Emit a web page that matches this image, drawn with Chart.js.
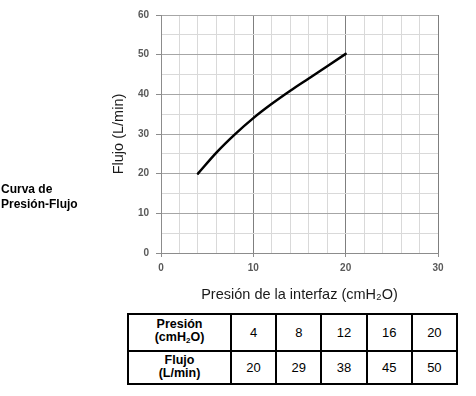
<!DOCTYPE html>
<html><head><meta charset="utf-8">
<script src="https://cdn.jsdelivr.net/npm/chart.js@4/dist/chart.umd.min.js"></script>
<style>
html,body{margin:0;padding:0;background:#fff;width:476px;height:396px;overflow:hidden;position:relative;font-family:"Liberation Sans",Arial,sans-serif;}
#c{position:absolute;left:0;top:0;}
#lbl{position:absolute;left:1px;top:182px;font-weight:bold;font-size:12px;line-height:14.5px;color:#000;}
table{position:absolute;left:127px;top:313px;border-collapse:collapse;width:331px;height:72px;}
td{border:2px solid #000;text-align:center;font-size:13px;padding:0;color:#000;}
td.h{font-weight:bold;font-size:12.5px;line-height:13px;width:101px;}
sub{font-size:8px;vertical-align:-2px;}
</style></head>
<body>
<canvas id="c" width="476" height="305"></canvas>
<div id="lbl">Curva de<br>Presión-Flujo</div>
<table id="t"></table>
<script>
// Table values
const presion = [4, 8, 12, 16, 20];
const flujo = [20, 29, 38, 45, 50];
// Curve
const curvaX = [4, 6, 8, 10, 12, 14, 16, 18, 20];
const curvaY = [20, 25.3, 29.9, 34.0, 37.6, 40.9, 44.0, 47.1, 50.2];
const xTicks = [0, 10, 20, 30];
const yTicks = [0, 10, 20, 30, 40, 50, 60];

// table
const t = document.getElementById('t');
let r1 = '<tr><td class="h">Presión<br>(cmH<sub>2</sub>O)</td>' + presion.map(v => '<td>' + v + '</td>').join('') + '</tr>';
let r2 = '<tr><td class="h">Flujo<br>(L/min)</td>' + flujo.map(v => '<td>' + v + '</td>').join('') + '</tr>';
t.innerHTML = r1 + r2;

const tickFont = {family: '"Liberation Sans", Arial, sans-serif', size: 10, weight: 'bold'};
const titleFont = {family: '"Liberation Sans", Arial, sans-serif', size: 14.5, lineHeight: 1.2};
new Chart(document.getElementById('c'), {
  type: 'scatter',
  data: {datasets: [{
    data: curvaX.map((x, i) => ({x: x, y: curvaY[i]})),
    showLine: true, borderColor: '#000', borderWidth: 2.5, pointRadius: 0,
    cubicInterpolationMode: 'monotone', fill: false, borderCapStyle: 'round'
  }]},
  options: {
    responsive: false, devicePixelRatio: 1, animation: false,
    layout: {padding: {left: 104, top: 15, right: 38, bottom: 1}},
    plugins: {legend: {display: false}, tooltip: {enabled: false}},
    scales: {
      x: {
        type: 'linear', min: 0, max: 30,
        ticks: {stepSize: 2, autoSkip: false, maxRotation: 0, padding: 5, color: '#595959', font: tickFont,
          callback: v => xTicks.includes(v) ? String(v) : ''},
        grid: {
          color: c => (c.tick && c.tick.value % 10 === 0 && c.tick.value !== 0) ? '#7f7f7f' : '#d9d9d9',
          tickColor: c => (c.tick && c.tick.value % 10 === 0) ? '#8c8c8c' : 'rgba(0,0,0,0)',
          tickLength: 4, lineWidth: 1
        },
        border: {color: '#8c8c8c', width: 1},
        title: {display: true, text: 'Presión de la interfaz (cmH₂O)', color: '#1a1a1a',
          font: titleFont, padding: {top: 0, bottom: 0}},
        afterFit: s => { s.height = 51; }
      },
      y: {
        type: 'linear', min: 0, max: 60,
        ticks: {stepSize: 5, autoSkip: false, padding: 7, color: '#595959', font: tickFont,
          callback: v => yTicks.includes(v) ? String(v) : ''},
        grid: {
          color: c => (c.tick && c.tick.value % 10 === 0 && c.tick.value !== 0) ? '#a6a6a6' : '#d9d9d9',
          tickColor: c => (c.tick && c.tick.value % 10 === 0) ? '#8c8c8c' : 'rgba(0,0,0,0)',
          tickLength: 5, lineWidth: 1
        },
        border: {color: '#8c8c8c', width: 1},
        title: {display: true, text: 'Flujo (L/min)', color: '#1a1a1a',
          font: titleFont, padding: {top: 6, bottom: 0}},
        afterFit: s => { s.width = 57; }
      }
    }
  }
});
</script>
</body></html>
